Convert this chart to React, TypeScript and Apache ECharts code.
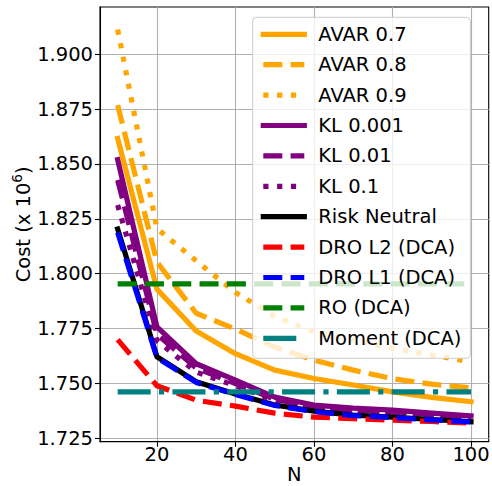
import React, { useEffect, useRef } from 'react';
import * as echarts from 'echarts';

const N = [10, 20, 30, 40, 50, 60, 70, 80, 90, 100];
const avar07 = [1.8616, 1.7930, 1.7739, 1.7636, 1.7561, 1.7523, 1.7493, 1.7462, 1.7437, 1.7417];
const avar08 = [1.8768, 1.8053, 1.7820, 1.7748, 1.7666, 1.7607, 1.7561, 1.7522, 1.7497, 1.7480];
const avar09 = [1.9112, 1.8206, 1.8059, 1.7915, 1.7806, 1.7735, 1.7698, 1.7660, 1.7630, 1.7598];
const kl0001 = [1.8520, 1.7758, 1.7590, 1.7515, 1.7438, 1.7402, 1.7388, 1.7379, 1.7365, 1.7352];
const kl001 = [1.8427, 1.7725, 1.7570, 1.7500, 1.7428, 1.7393, 1.7380, 1.7370, 1.7358, 1.7346];
const kl01 = [1.8313, 1.7695, 1.7552, 1.7490, 1.7422, 1.7388, 1.7375, 1.7365, 1.7354, 1.7342];
const riskNeutral = [1.8204, 1.7622, 1.7508, 1.7452, 1.7402, 1.7374, 1.7356, 1.7347, 1.7336, 1.7326];
const droL2 = [1.7700, 1.7490, 1.7424, 1.7397, 1.7365, 1.7347, 1.7340, 1.7333, 1.7327, 1.7320];
const droL1 = [1.8188, 1.7618, 1.7505, 1.7450, 1.7400, 1.7372, 1.7354, 1.7345, 1.7334, 1.7325];
const ro = [1.7954, 1.7954, 1.7954, 1.7954, 1.7954, 1.7954, 1.7954, 1.7954, 1.7954, 1.7954];
const moment = [1.7462, 1.7462, 1.7462, 1.7462, 1.7462, 1.7462, 1.7462, 1.7462, 1.7462, 1.7462];

const xTicks = [20, 40, 60, 80, 100];
const yTicks = [1.725, 1.75, 1.775, 1.8, 1.825, 1.85, 1.875, 1.9];

const FONT = "'DejaVu Sans', sans-serif";
const LW = 5.2;
const DASH = [19, 8.3];
const DOT = [5.2, 8.6];
const DASHDOT = [33, 8.3, 5.2, 8.3];

const defs = [
  { name: 'AVAR 0.7', values: avar07, color: '#FFA500', dash: null },
  { name: 'AVAR 0.8', values: avar08, color: '#FFA500', dash: DASH },
  { name: 'AVAR 0.9', values: avar09, color: '#FFA500', dash: DOT },
  { name: 'KL 0.001', values: kl0001, color: '#800080', dash: null },
  { name: 'KL 0.01', values: kl001, color: '#800080', dash: DASH },
  { name: 'KL 0.1', values: kl01, color: '#800080', dash: DOT },
  { name: 'Risk Neutral', values: riskNeutral, color: '#000000', dash: null },
  { name: 'DRO L2 (DCA)', values: droL2, color: '#FF0000', dash: DASH },
  { name: 'DRO L1 (DCA)', values: droL1, color: '#0000FF', dash: DASH },
  { name: 'RO (DCA)', values: ro, color: '#008000', dash: DASH },
  { name: 'Moment (DCA)', values: moment, color: '#008080', dash: DASHDOT },
];

export default function App() {
  const ref = useRef<HTMLDivElement>(null);
  useEffect(() => {
    if (!ref.current) return;
    const chart = echarts.init(ref.current, undefined, { renderer: 'svg' });
    const axisText = { fontFamily: FONT, fontSize: 19.5, color: '#000' };
    chart.setOption({
      animation: false,
      backgroundColor: '#ffffff',
      grid: {
        left: 100, top: 7, right: 3.3, bottom: 44.3,
        show: true, borderColor: '#000', borderWidth: 1.1,
        containLabel: false,
        outerBoundsMode: 'none',
      },
      legend: {
        orient: 'vertical',
        left: 252.7,
        top: 17.3,
        itemWidth: 41,
        itemHeight: 20,
        itemGap: 10.4,
        padding: [7, 9, 10, 8],
        backgroundColor: 'rgba(255,255,255,0.8)',
        borderColor: '#cccccc',
        borderWidth: 1,
        borderRadius: 4,
        selectedMode: false,
        textStyle: { fontFamily: FONT, fontSize: 19.5, color: '#000', lineHeight: 20, padding: [0, 0, 0, 9] },
        lineStyle: { width: LW },
        itemStyle: { opacity: 0 },
        data: defs.map((d) => d.name),
      },
      xAxis: {
        type: 'value',
        min: 5.5,
        max: 104.5,
        name: 'N',
        nameLocation: 'middle',
        nameGap: 24,
        nameMoveOverlap: false,
        nameTextStyle: { ...axisText, lineHeight: 18 },
        axisLine: { show: true, onZero: false, lineStyle: { color: '#000', width: 1.1 } },
        axisTick: { show: true, length: 5, customValues: xTicks, lineStyle: { color: '#000', width: 1.1 } },
        axisLabel: { ...axisText, margin: 3, customValues: xTicks },
        splitLine: { show: true, lineStyle: { color: '#b0b0b0', width: 1.1 } },
      },
      yAxis: {
        type: 'value',
        min: 1.7235,
        max: 1.9215,
        name: 'Cost (x 10{sup|6})',
        nameLocation: 'middle',
        nameGap: 64,
        nameMoveOverlap: false,
        nameTextStyle: {
          ...axisText,
          lineHeight: 26,
          rich: { sup: { fontFamily: FONT, fontSize: 13.6, color: '#000', verticalAlign: 'top', lineHeight: 14 } },
        },
        axisLine: { show: true, onZero: false, lineStyle: { color: '#000', width: 1.1 } },
        axisTick: { show: true, length: 5, customValues: yTicks, lineStyle: { color: '#000', width: 1.1 } },
        axisLabel: { ...axisText, margin: 7, customValues: yTicks, formatter: (v: number) => v.toFixed(3) },
        splitLine: { show: true, lineStyle: { color: '#b0b0b0', width: 1.1 } },
      },
      series: defs.map((d) => ({
        name: d.name,
        type: 'line',
        symbol: 'none',
        showSymbol: false,
        data: N.map((n, i) => [n, d.values[i]]),
        lineStyle: {
          color: d.color,
          width: LW,
          type: d.dash ? d.dash : 'solid',
          cap: d.dash ? 'butt' : 'square',
          join: 'round',
        },
        itemStyle: { color: d.color },
        emphasis: { disabled: true },
      })),
    });
    return () => chart.dispose();
  }, []);
  return <div ref={ref} style={{ position: 'fixed', left: 0, top: 0, width: 492, height: 486 }} />;
}
